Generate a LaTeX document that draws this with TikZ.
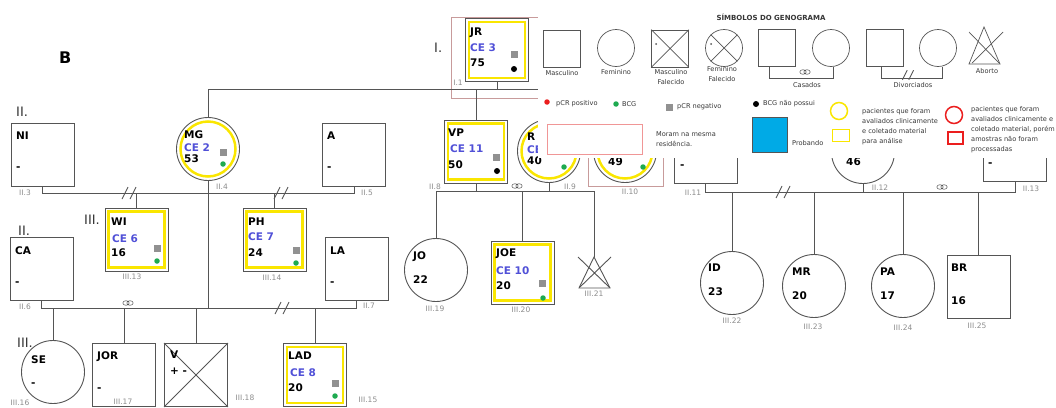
\documentclass[tikz,border=0pt]{standalone}
\usepackage{fontspec}
\setmainfont{DejaVu Sans}
\usetikzlibrary{positioning}
\definecolor{linhagris}{RGB}{85,85,85}
\definecolor{amarelo}{RGB}{250,230,0}
\definecolor{azulce}{RGB}{80,80,215}
\definecolor{cinzaid}{RGB}{140,140,140}
\definecolor{cinzapcr}{RGB}{145,145,145}
\definecolor{verde}{RGB}{30,170,80}
\definecolor{vermelho}{RGB}{235,30,30}
\definecolor{rosa}{RGB}{200,155,155}
\definecolor{rosaclaro}{RGB}{240,150,150}
\definecolor{probando}{RGB}{0,170,230}
\definecolor{legtexto}{RGB}{55,55,55}
\tikzset{
  linha/.style={draw=linhagris, line width=0.9pt},
  masc/.style={draw=linhagris, line width=0.9pt, minimum size=63pt, inner sep=0pt},
  fem/.style={masc, circle},
  mascce/.style={masc, path picture={\draw[amarelo, line width=2.5pt] ([shift={(3.5pt,3.5pt)}]path picture bounding box.south west) rectangle ([shift={(-3.5pt,-3.5pt)}]path picture bounding box.north east);}},
  femce/.style={fem, path picture={\draw[amarelo, line width=2.5pt] (path picture bounding box.center) circle (27.5pt);}},
  nome/.style={anchor=west, inner sep=0pt, text height=.73em, text depth=0pt, font=\fontsize{10.5}{12}\selectfont\bfseries},
  nomece/.style={nome, text=azulce},
  codigo/.style={inner sep=0pt, text=cinzaid, font=\fontsize{7.5}{9}\selectfont},
  geracao/.style={anchor=west, inner sep=0pt, font=\fontsize{13}{15}\selectfont, text=black!80},
  pcrneg/.style={fill=cinzapcr, minimum size=7pt, inner sep=0pt},
  bcg/.style={circle, fill=verde, minimum size=5.5pt, inner sep=0pt},
  bcgnao/.style={circle, fill=black, minimum size=6pt, inner sep=0pt},
  pcrpos/.style={circle, fill=vermelho, minimum size=5.5pt, inner sep=0pt},
  moram/.style={draw=rosa, line width=0.8pt},
  legenda/.style={anchor=west, inner sep=0pt, text=legtexto, font=\fontsize{6.6}{10}\selectfont},
  legbloco/.style={anchor=north west, inner sep=0pt, align=left, text=legtexto, font=\fontsize{6.6}{10}\selectfont},
  simbolo/.style={masc, minimum size=37pt, line width=0.7pt},
  divorcio/.pic={\draw[linha] (-7,6) -- (-1,-6) (1,6) -- (7,-6);},
  aneis/.pic={\draw[linha, line width=0.5pt] (-2,0) ellipse (3.2pt and 2.3pt) (2,0) ellipse (3.2pt and 2.3pt);},
}
\begin{document}
\begin{tikzpicture}[x=1pt, y=-1pt]
\useasboundingbox (0,0) rectangle (1056,407);
\coordinate (nivelI) at (0,89);
\coordinate (nivelA) at (0,193);
\coordinate (nivelB) at (0,308);
\coordinate (nivelC) at (0,191);
\coordinate (nivelD) at (0,192);
\coordinate (fimI) at (700,89);

\node[geracao, font=\fontsize{16}{18}\selectfont\bfseries, text=black] (g-b) at (59,58) {B};
\node[geracao] (g-i) at (434,48) {I.};
\node[geracao] (g-ii) at (16,112) {II.};
\node[geracao] (g-ii2) at (18,231) {II.};
\node[geracao] (g-iii) at (84,220) {III.};
\node[geracao] (g-iii2) at (17,343) {III.};

% geracao I
\draw[moram] (451,17) rectangle (700,98);
\node[mascce] (jr) at (497,50) {};
\node[nome] (jr-n) at (470,32) {JR};
\node[nomece] (jr-c) at (470,48) {CE 3};
\node[nome] (jr-a) at (470,63) {75};
\node[pcrneg] (jr-q) at (514,54) {};
\node[bcgnao] (jr-b) at (514,69) {};
\node[codigo] (jr-id) at (458,83) {I.1};

% geracao II, lado esquerdo
\node[masc] (ni) at (42.5,154.5) {};
\node[nome] (ni-n) at (16,136) {NI};
\node[nome] (ni-a) at (16,167) {-};
\node[codigo] (ni-id) at (25,193) {II.3};
\node[femce] (mg) at (208,149) {};
\node[nome] (mg-n) at (184,135) {MG};
\node[nomece] (mg-c) at (184,148) {CE 2};
\node[nome] (mg-a) at (184,159) {53};
\node[pcrneg] (mg-q) at (223,152) {};
\node[bcg] (mg-b) at (223,164) {};
\node[codigo] (mg-id) at (222,187) {II.4};
\node[masc] (a) at (354,154.5) {};
\node[nome] (a-n) at (327,136) {A};
\node[nome] (a-a) at (327,167) {-};
\node[codigo] (a-id) at (367,193) {II.5};
\node[masc] (ca) at (41.5,268.5) {};
\node[nome] (ca-n) at (15,251) {CA};
\node[nome] (ca-a) at (15,282) {-};
\node[codigo] (ca-id) at (25,307) {II.6};
\node[masc] (la) at (356.5,268.5) {};
\node[nome] (la-n) at (330,251) {LA};
\node[nome] (la-a) at (330,282) {-};
\node[codigo] (la-id) at (369,306) {II.7};

\draw[linha] (mg.north) |- (fimI);
\draw[linha] (jr.south) -- (jr.south |- nivelI);
\draw[linha] (ni.south) |- (a.south |- nivelA) -- (a.south);
\draw[linha] (ca.south) |- (la.south |- nivelB) -- (la.south);
\draw[linha] (mg.south) -- (mg.south |- nivelB);
\pic at (129,193) {divorcio};
\pic at (281,193) {divorcio};
\pic at (282,308) {divorcio};
\pic at (128,303) {aneis};

% geracao III, lado esquerdo
\node[mascce] (wi) at (136.5,239.5) {};
\node[nome] (wi-n) at (111,222) {WI};
\node[nomece] (wi-c) at (112,239) {CE 6};
\node[nome] (wi-a) at (111,253) {16};
\node[pcrneg] (wi-q) at (157,248) {};
\node[bcg] (wi-b) at (157,261) {};
\node[codigo] (wi-id) at (132,277) {III.13};
\node[mascce] (ph) at (274.5,239.5) {};
\node[nome] (ph-n) at (248,222) {PH};
\node[nomece] (ph-c) at (248,237) {CE 7};
\node[nome] (ph-a) at (248,253) {24};
\node[pcrneg] (ph-q) at (296,250) {};
\node[bcg] (ph-b) at (296,263) {};
\node[codigo] (ph-id) at (272,278) {III.14};
\draw[linha] (wi.north) -- (wi.north |- nivelA);
\draw[linha] (ph.north) -- (ph.north |- nivelA);

\node[fem] (se) at (53,372) {};
\node[nome] (se-n) at (31,360) {SE};
\node[nome] (se-a) at (31,383) {-};
\node[codigo] (se-id) at (20,403) {III.16};
\node[masc] (jor) at (124,375) {};
\node[nome] (jor-n) at (97,356) {JOR};
\node[nome] (jor-a) at (97,388) {-};
\node[codigo] (jor-id) at (123,402) {III.17};
\node[masc] (v) at (196,375) {};
\draw[linha] (v.north west) -- (v.south east) (v.north east) -- (v.south west);
\node[nome] (v-n) at (170,355) {V};
\node[nome] (v-a) at (170,371) {+ -};
\node[codigo] (v-id) at (245,398) {III.18};
\node[mascce] (lad) at (315,375) {};
\node[nome] (lad-n) at (288,356) {LAD};
\node[nomece] (lad-c) at (290,373) {CE 8};
\node[nome] (lad-a) at (288,388) {20};
\node[pcrneg] (lad-q) at (335,383) {};
\node[bcg] (lad-b) at (335,396) {};
\node[codigo] (lad-id) at (368,400) {III.15};
\foreach \f in {se,jor,v,lad}
  \draw[linha] (\f.north) -- (\f.north |- nivelB);

% geracao II, centro
\node[mascce] (vp) at (476,151.5) {};
\node[nome] (vp-n) at (448,133) {VP};
\node[nomece] (vp-c) at (450,149) {CE 11};
\node[nome] (vp-a) at (448,165) {50};
\node[pcrneg] (vp-q) at (496,157) {};
\node[bcgnao] (vp-b) at (497,171) {};
\node[codigo] (vp-id) at (435,187) {II.8};
\node[femce] (r) at (549,151) {};
\node[nome] (r-n) at (527,137) {R};
\node[nomece] (r-c) at (527,150) {CE};
\node[nome] (r-a) at (527,161) {40};
\node[bcg] (r-b) at (564,167) {};
\node[codigo] (r-id) at (570,187) {II.9};
\draw[moram] (588,100) rectangle (663,186);
\node[femce] (ii10) at (625,151) {};
\node[nome] (ii10-a) at (608,162) {49};
\node[bcg] (ii10-b) at (643,167) {};
\node[codigo] (ii10-id) at (630,192) {II.10};
\draw[linha] (vp.north) -- (vp.north |- nivelI);

% geracao III, centro
\node[fem] (jo) at (436,270) {};
\node[nome] (jo-n) at (413,256) {JO};
\node[nome] (jo-a) at (413,280) {22};
\node[codigo] (jo-id) at (435,309) {III.19};
\node[mascce] (joe) at (522.5,272.5) {};
\node[nome] (joe-n) at (496,253) {JOE};
\node[nomece] (joe-c) at (496,271) {CE 10};
\node[nome] (joe-a) at (496,286) {20};
\node[pcrneg] (joe-q) at (542,283) {};
\node[bcg] (joe-b) at (543,298) {};
\node[codigo] (joe-id) at (521,310) {III.20};
\coordinate (iii21) at (594,257);
\draw[linha] (iii21) -- ++(-15,31) -- ++(31,0) -- cycle;
\draw[linha] ([shift={(-16,0)}]iii21) -- ([shift={(15,30)}]iii21)
  ([shift={(17,0)}]iii21) -- ([shift={(-14,30)}]iii21);
\node[codigo] (iii21-id) at (594,294) {III.21};
\draw[linha] (jo.north) |- (iii21 |- nivelC) -- (iii21);
\draw[linha] (vp.south) -- (vp.south |- nivelC);
\draw[linha] (r.south) -- (r.south |- nivelC);
\draw[linha] (joe.north) -- (joe.north |- nivelC);
\pic at (517,186) {aneis};

% lado direito
\node[masc] (ii11) at (705.5,151.5) {};
\node[nome] (ii11-a) at (680,165) {-};
\node[codigo] (ii11-id) at (693,193) {II.11};
\node[fem] (ii12) at (863,152) {};
\node[nome] (ii12-a) at (846,162) {46};
\node[codigo] (ii12-id) at (880,188) {II.12};
\node[masc] (ii13) at (1015,149.5) {};
\node[nome] (ii13-a) at (988,163) {-};
\node[codigo] (ii13-id) at (1031,189) {II.13};
\node[fem] (id) at (732,283) {};
\node[nome] (id-n) at (708,268) {ID};
\node[nome] (id-a) at (708,292) {23};
\node[codigo] (id-id) at (732,321) {III.22};
\node[fem] (mr) at (814,286) {};
\node[nome] (mr-n) at (792,272) {MR};
\node[nome] (mr-a) at (792,296) {20};
\node[codigo] (mr-id) at (813,327) {III.23};
\node[fem] (pa) at (903,286) {};
\node[nome] (pa-n) at (880,272) {PA};
\node[nome] (pa-a) at (880,296) {17};
\node[codigo] (pa-id) at (903,328) {III.24};
\node[masc] (br) at (978.5,286.5) {};
\node[nome] (br-n) at (951,268) {BR};
\node[nome] (br-a) at (951,301) {16};
\node[codigo] (br-id) at (977,326) {III.25};
\draw[linha] (ii11.south) |- (ii13.south |- nivelD) -- (ii13.south);
\foreach \f in {ii12} \draw[linha] (\f.south) -- (\f.south |- nivelD);
\foreach \f in {id,mr,pa,br} \draw[linha] (\f.north) -- (\f.north |- nivelD);
\pic at (783,192) {divorcio};
\pic at (942,187) {aneis};

% legenda
\fill[white] (538,0) rectangle (1056,158);
\node[inner sep=0pt, text=legtexto, font=\fontsize{7}{8}\selectfont\bfseries] (lg-tit) at (771,17) {SÍMBOLOS DO GENOGRAMA};
\node[simbolo] (lgmasc) at (561.5,48.5) {};
\node[legenda, anchor=center] (lgmasc-t) at (562,73) {Masculino};
\node[simbolo, circle] (lgfem) at (616,48) {};
\node[legenda, anchor=center] (lgfem-t) at (616,72) {Feminino};
\node[simbolo] (lgmf) at (670,48.5) {};
\draw[linha, line width=0.7pt] (lgmf.north west) -- (lgmf.south east) (lgmf.north east) -- (lgmf.south west);
\node[circle, fill=linhagris, minimum size=2pt, inner sep=0pt] (lgmf-p) at (656,44) {};
\node[legbloco, anchor=north, align=center] (lgmf-t) at (671,69) {Masculino\\Falecido};
\node[simbolo, circle] (lgff) at (724,48) {};
\draw[linha, line width=0.7pt] (lgff.north west) -- (lgff.south east) (lgff.north east) -- (lgff.south west);
\node[circle, fill=linhagris, minimum size=2pt, inner sep=0pt] (lgff-p) at (711,44) {};
\node[legbloco, anchor=north, align=center] (lgff-t) at (722,66) {Feminino\\Falecido};
\coordinate (lgnivel) at (0,78);
\node[simbolo] (lgcm) at (777,48) {};
\node[simbolo, circle] (lgcf) at (831,48) {};
\draw[linha, line width=0.7pt] ([xshift=-8pt]lgcm.south) |- ([xshift=2pt]lgcf.south |- lgnivel) -- ([xshift=2pt]lgcf.south);
\pic at (805,72) {aneis};
\node[legenda, anchor=center] (lgc-t) at (807,85) {Casados};
\node[simbolo] (lgdm) at (884.5,47.5) {};
\node[simbolo, circle] (lgdf) at (938,48) {};
\draw[linha, line width=0.7pt] ([xshift=-3pt]lgdm.south) |- ([xshift=4pt]lgdf.south |- lgnivel) -- ([xshift=4pt]lgdf.south);
\pic[scale=0.8] at (908,75) {divorcio};
\node[legenda, anchor=center] (lgd-t) at (913,85) {Divorciados};
\coordinate (lgab) at (984,27);
\draw[linha, line width=0.7pt] (lgab) -- ++(-15,37) -- ++(31,0) -- cycle;
\draw[linha, line width=0.7pt] ([shift={(-15,5)}]lgab) -- ([shift={(15,36)}]lgab)
  ([shift={(19,5)}]lgab) -- ([shift={(-12,36)}]lgab);
\node[legenda, anchor=center] (lgab-t) at (987,71) {Aborto};

\node[pcrpos] (lg-pp) at (547,102) {};
\node[legenda] (lg-pp-t) at (556,104) {pCR positivo};
\node[bcg] (lg-bcg) at (616,104) {};
\node[legenda] (lg-bcg-t) at (622,104) {BCG};
\node[pcrneg] (lg-pn) at (669,107) {};
\node[legenda] (lg-pn-t) at (677,107) {pCR negativo};
\node[bcgnao] (lg-bn) at (756,104) {};
\node[legenda] (lg-bn-t) at (763,104) {BCG não possui};
\node[draw=rosaclaro, line width=0.8pt, minimum width=95pt, minimum height=30pt, inner sep=0pt] (lg-mo) at (594.5,139) {};
\node[legbloco] (lg-mo-t) at (656,131) {Moram na mesma\\residência.};
\node[fill=probando, draw=linhagris, line width=0.6pt, minimum size=35pt, inner sep=0pt] (lg-pb) at (769.5,134.5) {};
\node[legenda] (lg-pb-t) at (792,143) {Probando};
\node[circle, draw=amarelo, line width=1.5pt, minimum size=17pt, inner sep=0pt] (lg-ac) at (839,111) {};
\node[draw=amarelo, line width=1.5pt, minimum width=17pt, minimum height=12pt, inner sep=0pt] (lg-ar) at (841,135.5) {};
\node[legbloco] (lg-at) at (862,108) {pacientes que foram\\avaliados clinicamente\\e coletado material\\para análise};
\node[circle, draw=vermelho, line width=1.5pt, minimum size=17pt, inner sep=0pt] (lg-vc) at (954,115) {};
\node[draw=vermelho, line width=1.5pt, minimum width=15pt, minimum height=12pt, inner sep=0pt] (lg-vr) at (955.5,138) {};
\node[legbloco] (lg-vt) at (971,106) {pacientes que foram\\avaliados clinicamente e\\coletado material, porém\\amostras não foram\\processadas};
\end{tikzpicture}
\end{document}
